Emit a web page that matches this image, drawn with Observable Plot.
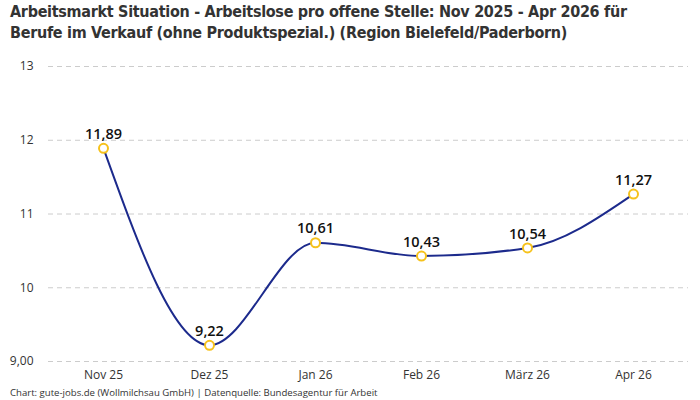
<!DOCTYPE html>
<html>
<head>
<meta charset="utf-8">
<script src="https://cdn.jsdelivr.net/npm/d3@7"></script>
<script src="https://cdn.jsdelivr.net/npm/@observablehq/plot@0.6"></script>
<style>
  html, body { margin: 0; padding: 0; background: #fff; }
  body { width: 700px; height: 400px; overflow: hidden; font-family: "Open Sans", sans-serif; }
  #title { position: absolute; left: 10px; top: 1px; font-family: "DejaVu Sans Condensed", sans-serif; font-weight: bold; font-size: 16px; letter-spacing: -0.3px; line-height: 21px; color: #333; }
  #chart { position: absolute; left: 0; top: 48px; }
  #caption { position: absolute; left: 10px; top: 386px; font-size: 9.6px; color: #333; font-family: "Open Sans", sans-serif; }
</style>
</head>
<body>
<div id="title">Arbeitsmarkt Situation - Arbeitslose pro offene Stelle: Nov 2025 - Apr 2026 für<br>Berufe im Verkauf (ohne Produktspezial.) (Region Bielefeld/Paderborn)</div>
<div id="chart"></div>
<div id="caption">Chart: gute-jobs.de (Wollmilchsau GmbH) | Datenquelle: Bundesagentur für Arbeit</div>
<script>
const months = ["Nov 25", "Dez 25", "Jan 26", "Feb 26", "März 26", "Apr 26"];
const values = [11.89, 9.22, 10.61, 10.43, 10.54, 11.27];
const valueLabels = ["11,89", "9,22", "10,61", "10,43", "10,54", "11,27"];
const yTicks = [9, 10, 11, 12, 13];
const yTickLabels = ["9,00", "10", "11", "12", "13"];

const data = months.map((m, i) => ({month: m, value: values[i], label: valueLabels[i]}));

const chart = Plot.plot({
  width: 700,
  height: 337,
  marginLeft: 48,
  marginRight: 12,
  marginTop: 18,
  marginBottom: 24,
  style: {fontFamily: "Open Sans, sans-serif", fontSize: "12px", color: "#333"},
  x: {type: "point", domain: months, padding: 0.5, label: null, tickSize: 0, tickPadding: 9},
  y: {domain: [9, 13], label: null, ticks: yTicks, tickSize: 0, tickPadding: 15,
      tickFormat: d => yTickLabels[yTicks.indexOf(d)]},
  marks: [
    Plot.gridY(yTicks, {stroke: "#cccccc", strokeOpacity: 1, strokeDasharray: "5,4"}),
    Plot.line(data, {x: "month", y: "value", curve: "monotone-x", stroke: "#1c2a8c", strokeWidth: 2}),
    Plot.dot(data, {x: "month", y: "value", r: 4.5, fill: "white", stroke: "#f6c21c", strokeWidth: 2}),
    Plot.text(data, {x: "month", y: "value", text: "label", dy: -14, fontSize: 14.5, fill: "#111", fontWeight: 600})
  ]
});
document.getElementById("chart").appendChild(chart);
</script>
</body>
</html>
